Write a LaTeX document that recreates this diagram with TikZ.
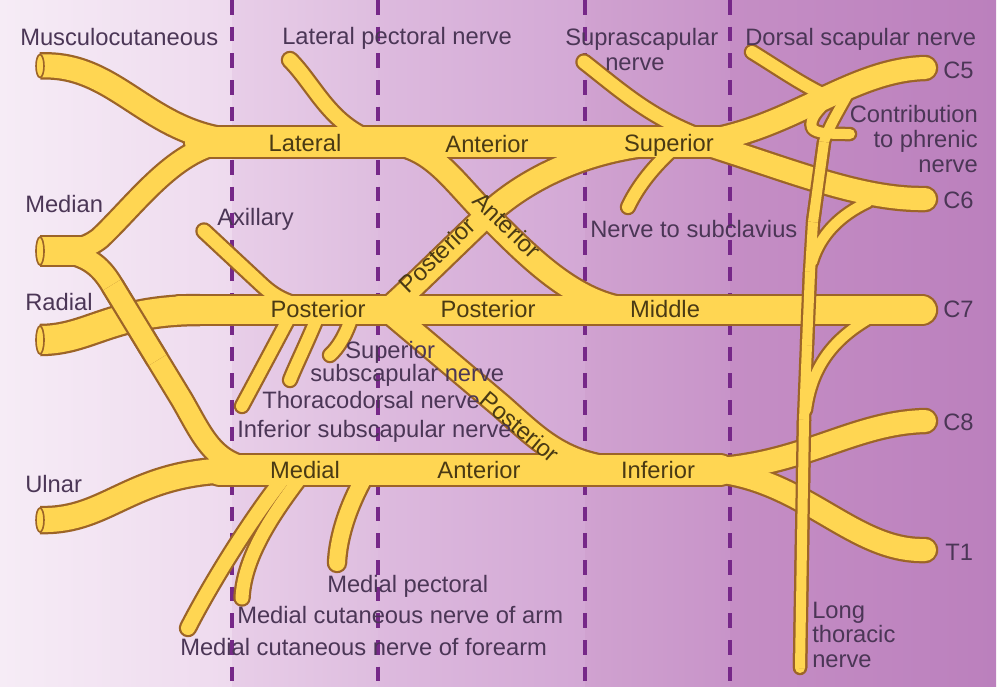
\documentclass[tikz,border=0pt]{standalone}
\usepackage{fontspec}
\setmainfont{Liberation Sans}
\definecolor{nyel}{HTML}{FFD652}
\definecolor{nbrn}{HTML}{9C6428}
\definecolor{dashcol}{HTML}{762888}
\definecolor{lblc}{HTML}{4B3656}
\definecolor{nlblc}{HTML}{4A3A14}
\tikzset{
  pass/.style={draw=nbrn},
  nv/.style={pass, line width={(#1+\nx)*0.75pt}, line cap=round, line join=round},
  ov/.style={nv=#1, line cap=butt},
  lb/.style={text=lblc, inner sep=0pt},
  nl/.style={text=nlblc, inner sep=0pt},
  dl/.style={draw=dashcol, line width=2.3pt, dash pattern=on 11pt off 9pt},
  face/.style={draw=nbrn, fill=nyel, line width=1.2pt},
}
\newcommand\nervesall{%
 % musculocutaneous
 \draw[nv=23, line cap=butt] (40,66) .. controls (120,62) and (150,142) .. (250,142);
 % lateral cord / anterior division / superior trunk
 \draw[nv=30] (200,142) -- (720,142);
 % lateral pectoral
 \draw[nv=14] (290,60) .. controls (315,85) and (330,125) .. (375,140);
 % median
 \draw[nv=28, line cap=butt] (40,251) -- (95,251);
 \draw[nv=20] (235,142) .. controls (180,142) and (140,200) .. (100,238) .. controls (85,250) and (70,251) .. (50,251);
 \draw[nv=20] (50,251) .. controls (85,252) and (100,265) .. (112,285) -- (182,400) .. controls (205,440) and (215,470) .. (270,470);
 % radial and posterior cord / middle trunk
 \draw[nv=28, line cap=butt] (40,340) .. controls (90,340) and (110,310) .. (200,310);
 \draw[nv=28] (180,310) -- (922,310);
 % axillary
 \draw[nv=13] (204,231) -- (262,285) .. controls (275,297) and (290,306) .. (320,308);
 % subscapular branches
 \draw[nv=12] (290,316) .. controls (272,350) and (256,380) .. (242,406);
 \draw[nv=12] (318,316) .. controls (306,345) and (296,365) .. (290,380);
 \draw[nv=12] (352,316) .. controls (346,335) and (338,348) .. (330,355);
 % ulnar and medial cord / inferior trunk
 \draw[nv=24, line cap=butt] (40,520) .. controls (110,522) and (130,470) .. (240,470);
 \draw[nv=30] (220,470) -- (720,470);
 % medial branches
 \draw[nv=14] (285,476) .. controls (250,520) and (210,585) .. (188,628);
 \draw[nv=13] (302,476) .. controls (268,520) and (244,560) .. (242,598);
 \draw[nv=16] (365,476) .. controls (346,510) and (338,540) .. (337,563);
 % divisions
 \draw[nv=22] (640,310) .. controls (580,310) and (530,258) .. (487,215) .. controls (450,178) and (430,142) .. (380,142);
 \draw[nv=22] (690,142) .. controls (600,142) and (530,175) .. (487,215) .. controls (445,255) and (410,290) .. (385,312);
 \draw[nv=22] (385,308) -- (500,405) .. controls (540,440) and (565,470) .. (640,470);
 % suprascapular, subclavius
 \draw[nv=13] (584,62) .. controls (620,90) and (650,118) .. (705,138);
 \draw[nv=12] (672,150) .. controls (650,170) and (636,190) .. (628,207);
 % roots C5 C6
 \draw[nv=22] (925,68) .. controls (850,70) and (790,130) .. (700,142);
 \draw[nv=22] (925,199) .. controls (860,200) and (790,170) .. (700,142);
 % dorsal scapular
 \draw[nv=12] (752,52) .. controls (778,68) and (798,82) .. (822,94);
 % contribution to phrenic
 \draw[nv=10] (836,93) .. controls (822,106) and (808,118) .. (812,128) .. controls (816,134) and (832,134) .. (850,134);
 % long thoracic
 \draw[nv=10] (850,90) .. controls (838,112) and (828,128) .. (824,142) -- (813,222) -- (810,272) -- (807,345) -- (804,420) -- (800,668);
 \draw[nv=10] (868,202) .. controls (840,215) and (820,235) .. (812,262);
 \draw[nv=10] (870,318) .. controls (835,338) and (812,365) .. (806,410);
 % roots C8 T1
 \draw[nv=22] (925,421) .. controls (850,423) and (800,468) .. (700,470);
 \draw[nv=22] (925,550) .. controls (850,552) and (800,472) .. (700,470);
}
\newcommand\ovall{%
 \draw[ov=20] (112,285) -- (157.65,360);
 \draw[ov=10] (824,142) -- (813,222);
 \draw[ov=10] (810,272) -- (807,345);
 \draw[ov=10] (804,420) -- (800,668);
}
\begin{document}
\begin{tikzpicture}[x=0.75pt, y=-0.75pt, font=\fontsize{17.8}{20}\selectfont]
\useasboundingbox (0,0) rectangle (1002,690);
\fill[white] (0,0) rectangle (1002,690);
% background bands
\shade[left color={rgb,255:red,246;green,236;blue,246}, right color={rgb,255:red,238;green,218;blue,238}] (0,0) rectangle (232,686);
\shade[left color={rgb,255:red,232;green,206;blue,232}, right color={rgb,255:red,222;green,189;blue,223}] (232,0) rectangle (378,686);
\shade[left color={rgb,255:red,221;green,186;blue,222}, right color={rgb,255:red,211;green,168;blue,213}] (378,0) rectangle (585,686);
\shade[left color={rgb,255:red,208;green,162;blue,208}, right color={rgb,255:red,200;green,148;blue,201}] (585,0) rectangle (730,686);
\shade[left color={rgb,255:red,197;green,142;blue,197}, right color={rgb,255:red,187;green,128;blue,189}] (730,0) rectangle (996,686);
% dashed separators
\foreach \xx in {232,378,585,730} \draw[dl] (\xx,0) -- (\xx,686);
% nerves: outline pass then fill pass
\begin{scope}
\def\nx{4.5}\tikzset{pass/.style={draw=nbrn}}\nervesall
\def\nx{0}\tikzset{pass/.style={draw=nyel}}\nervesall
\def\nx{4.5}\tikzset{pass/.style={draw=nbrn}}\ovall
\def\nx{0}\tikzset{pass/.style={draw=nyel}}\ovall
\end{scope}
% cut faces at the left ends
\draw[face] (40,66) ellipse (4 and 11.5);
\draw[face] (40,251) ellipse (4 and 14);
\draw[face] (40,340) ellipse (4 and 14);
\draw[face] (40,520) ellipse (4 and 12);
% labels on nerves
\node[nl, anchor=base] (nLat) at (305,151) {Lateral};
\node[nl, anchor=base] (nAntA) at (487,152) {Anterior};
\node[nl, anchor=base] (nSup) at (669,151) {Superior};
\node[nl, rotate=-44] (nAntB) at (507,225) {Anterior};
\node[nl, rotate=44] (nPostA) at (437,255) {Posterior};
\node[nl, anchor=base] (nPostB) at (318,317) {Posterior};
\node[nl, anchor=base] (nPostC) at (488,317) {Posterior};
\node[nl, anchor=base] (nMid) at (665,317) {Middle};
\node[nl, rotate=-40] (nPostD) at (520,427) {Posterior};
\node[nl, anchor=base] (nMed) at (305,478) {Medial};
\node[nl, anchor=base] (nAntC) at (479,478) {Anterior};
\node[nl, anchor=base] (nInf) at (658,478) {Inferior};
% outer labels
\node[lb, anchor=base west] (tMusc) at (20,45) {Musculocutaneous};
\node[lb, anchor=base west] (tLatPec) at (282,44) {Lateral pectoral nerve};
\node[lb, anchor=base west] (tSupraA) at (565,45) {Suprascapular};
\node[lb, anchor=base west] (tSupraB) at (605,70) {nerve};
\node[lb, anchor=base west] (tDors) at (745,45) {Dorsal scapular nerve};
\node[lb, anchor=base west] (tC5) at (943,78) {C5};
\node[lb, anchor=base west] (tC6) at (943,208) {C6};
\node[lb, anchor=base west] (tC7) at (943,317) {C7};
\node[lb, anchor=base west] (tC8) at (943,430) {C8};
\node[lb, anchor=base west] (tT1) at (945,560) {T1};
\node[lb, anchor=base east] (tConA) at (978,122) {Contribution};
\node[lb, anchor=base east] (tConB) at (978,147) {to phrenic};
\node[lb, anchor=base east] (tConC) at (978,172) {nerve};
\node[lb, anchor=base west] (tMedian) at (25,212) {Median};
\node[lb, anchor=base west] (tAxil) at (217,225) {Axillary};
\node[lb, anchor=base west] (tSubcl) at (590,237) {Nerve to subclavius};
\node[lb, anchor=base west] (tRadial) at (25,310) {Radial};
\node[lb, anchor=base west] (tSupSubA) at (345,358) {Superior};
\node[lb, anchor=base west] (tSupSubB) at (310,381) {subscapular nerve};
\node[lb, anchor=base west] (tThor) at (262,408) {Thoracodorsal nerve};
\node[lb, anchor=base west] (tInfSub) at (237,437) {Inferior subscapular nerve};
\node[lb, anchor=base west] (tUlnar) at (25,492) {Ulnar};
\node[lb, anchor=base west] (tMedPec) at (327,592) {Medial pectoral};
\node[lb, anchor=base west] (tMCA) at (237,623) {Medial cutaneous nerve of arm};
\node[lb, anchor=base west] (tMCF) at (180,655) {Medial cutaneous nerve of forearm};
\node[lb, anchor=base west] (tLTA) at (812,618) {Long};
\node[lb, anchor=base west] (tLTB) at (812,642) {thoracic};
\node[lb, anchor=base west] (tLTC) at (812,667) {nerve};
\end{tikzpicture}
\end{document}
